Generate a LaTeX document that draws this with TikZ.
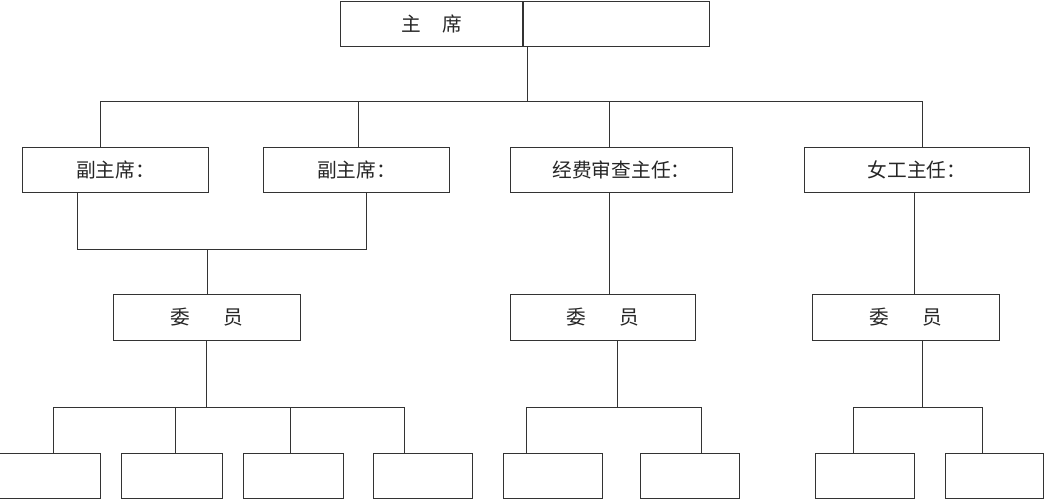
\documentclass[tikz,border=0pt]{standalone}
\usepackage{fontspec}
\newfontfamily\cjk{Noto Sans CJK SC}

\tikzset{
  box/.style={draw, inner sep=0pt, outer sep=0pt, text=black!85,
    font=\cjk\fontsize{14}{16}\selectfont},
  vicebox/.style={box, minimum height=1.125cm},
  memberbox/.style={box, minimum height=1.15cm},
  emptybox/.style={box, minimum width=2.5cm, minimum height=1.125cm},
}

\begin{document}
\begin{tikzpicture}[x=0.025cm, y=-0.025cm, line width=0.7pt, color=black!80]
    \useasboundingbox (0,0) rectangle (1045,500);

    % Chair (two cells)
    \node[box, minimum width=4.55cm, minimum height=1.125cm] (chairL) at (432,23.5) {主\hspace{1.05em}席};
    \node[box, minimum width=4.65cm, minimum height=1.125cm] (chairR) at (616,23.5) {};

    % Second row
    \node[vicebox, minimum width=4.625cm] (vice1) at (115.5,169.5) {副主席：};
    \node[vicebox, minimum width=4.625cm] (vice2) at (356.5,169.5) {副主席：};
    \node[vicebox, minimum width=5.525cm] (audit) at (621.5,169.5) {经费审查主任：};
    \node[vicebox, minimum width=5.6cm] (women) at (917,169.5) {女工主任：};

    % Members
    \node[memberbox, minimum width=4.65cm] (member1) at (207,317) {委\hspace{1.7em}员};
    \node[memberbox, minimum width=4.6cm] (member2) at (603,317) {委\hspace{1.7em}员};
    \node[memberbox, minimum width=4.65cm] (member3) at (906,317) {委\hspace{1.7em}员};

    % Empty boxes at the bottom
    \node[emptybox] (e1) at (50,475.5) {};
    \node[emptybox] (e2) at (172,475.5) {};
    \node[emptybox, minimum width=2.475cm] (e3) at (293.5,475.5) {};
    \node[emptybox, minimum width=2.475cm] (e4) at (422.5,475.5) {};
    \node[emptybox, minimum width=2.475cm] (e5) at (552.5,475.5) {};
    \node[emptybox, minimum width=2.475cm] (e6) at (689.5,475.5) {};
    \node[emptybox, minimum width=2.475cm] (e7) at (864.5,475.5) {};
    \node[emptybox, minimum width=2.45cm] (e8) at (994,475.5) {};

    % Chair to second row
    \coordinate (top) at (527,101);
    \coordinate (t1) at (100,101);
    \coordinate (t2) at (358,101);
    \coordinate (t3) at (609,101);
    \coordinate (t4) at (922,101);
    \draw (top |- chairR.south) -- (top);
    \draw (t1) -- (t4);
    \draw (t1) -- (t1 |- vice1.north);
    \draw (t2) -- (t2 |- vice2.north);
    \draw (t3) -- (t3 |- audit.north);
    \draw (t4) -- (t4 |- women.north);

    % Vice chairs to members
    \coordinate (a1) at (77,249);
    \coordinate (a2) at (366,249);
    \coordinate (join) at (207,249);
    \draw (a1 |- vice1.south) -- (a1) -- (a2) -- (a2 |- vice2.south);
    \draw (join) -- (member1.north);
    \draw (t3 |- audit.south) -- (t3 |- member2.north);
    \coordinate (w1) at (914,249);
    \draw (w1 |- women.south) -- (w1 |- member3.north);

    % Members to empty boxes
    \coordinate (b1) at (206,407);
    \coordinate (b2) at (617,407);
    \coordinate (b3) at (922,407);
    \draw (b1 |- member1.south) -- (b1);
    \draw (b2 |- member2.south) -- (b2);
    \draw (b3 |- member3.south) -- (b3);
    \draw (53,407) coordinate (c1) -- (404,407) coordinate (c4);
    \draw (526,407) coordinate (c5) -- (701,407) coordinate (c6);
    \draw (853,407) coordinate (c7) -- (982,407) coordinate (c8);
    \coordinate (c2) at (175,407);
    \coordinate (c3) at (290,407);
    \draw (c1) -- (c1 |- e1.north);
    \draw (c2) -- (c2 |- e2.north);
    \draw (c3) -- (c3 |- e3.north);
    \draw (c4) -- (c4 |- e4.north);
    \draw (c5) -- (c5 |- e5.north);
    \draw (c6) -- (c6 |- e6.north);
    \draw (c7) -- (c7 |- e7.north);
    \draw (c8) -- (c8 |- e8.north);
\end{tikzpicture}
\end{document}
